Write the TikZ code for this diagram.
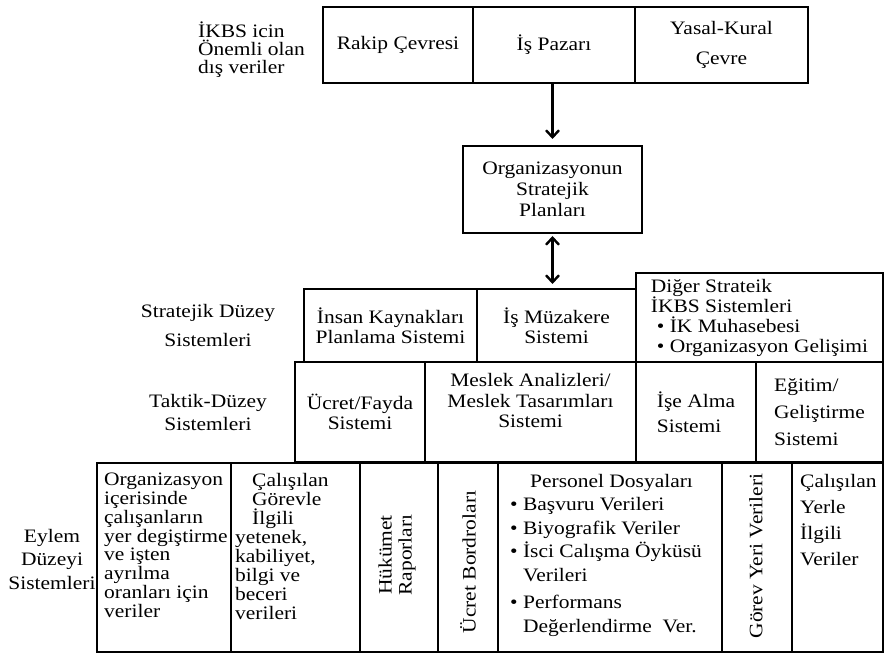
\documentclass[tikz,border=0pt]{standalone}
\usepackage{fontspec}
\setmainfont[FakeStretch=1.13]{Liberation Serif}
\usepackage{tikz}
\usetikzlibrary{arrows.meta}

\newcommand{\cellfont}[1]{\fontsize{19}{#1}\selectfont}

\begin{document}
\begin{tikzpicture}[x=1pt,y=-1pt,
    every node/.style={font=\cellfont{19.5}},
    cell/.style={draw, line width=2.4pt, inner sep=0pt, outer sep=0pt, align=center},
    thincell/.style={draw, line width=1.3pt, inner sep=0pt, outer sep=0pt, align=center},
    txt/.style={inner sep=0pt, align=left},
    side/.style={inner sep=0pt, align=center},
    arr/.style={line width=2.4pt, -{Straight Barb[length=7pt,width=13pt]}},
    dblarr/.style={line width=2.4pt, {Straight Barb[length=7pt,width=13pt]}-{Straight Barb[length=7pt,width=13pt]}}]

  \useasboundingbox (0,0) rectangle (884,655);

  % outside data:
  \node[txt, anchor=north west, font=\cellfont{18}] (dis) at (198,22) {İKBS icin\\Önemli olan\\dış veriler};
  \node[thincell, minimum width=150, minimum height=76] (rakip) at (398,45) {Rakip Çevresi};
  \node[thincell, minimum width=162, minimum height=76] (pazar) at (554,45) {İş Pazarı};
  \node[thincell, minimum width=173, minimum height=76, font=\cellfont{30}] (yasal) at (721.5,45) {Yasal-Kural\\Çevre};
  \draw[line width=2.6pt] (rakip.north west) rectangle (yasal.south east);

  % plans:
  \node[cell, minimum width=179, minimum height=87, font=\cellfont{21}] (org) at (552.5,189.5) {Organizasyonun\\Stratejik\\Planları};

  \draw[arr, shorten >=7pt] (org.north |- pazar.south) -- (org.north);

  % strategic level:
  \node[side, font=\cellfont{29}] (strlbl) at (208,325.5) {Stratejik Düzey\\Sistemleri};
  \node[cell, minimum width=173, minimum height=73, font=\cellfont{20}] (ikps) at (390.5,325.5) {İnsan Kaynakları\\Planlama Sistemi};
  \node[cell, minimum width=159, minimum height=73, font=\cellfont{20}] (muzakere) at (556.5,325.5) {İş Müzakere\\Sistemi};
  \node[cell, minimum width=247, minimum height=89, align=left, font=\cellfont{20}] (diger) at (759.5,317.5)
    {Diğer Strateik\\İKBS Sistemleri\\\hspace*{6pt}• İK Muhasebesi\\\hspace*{6pt}• Organizasyon Gelişimi};

  \draw[dblarr, shorten <=3pt, shorten >=5pt] (org.south) -- (org.south |- muzakere.north);

  % tactical level:
  \node[side, font=\cellfont{23}] (taklbl) at (208,412.5) {Taktik-Düzey\\Sistemleri};
  \node[cell, minimum width=130, minimum height=100] (ucret) at (360,412) {Ücret/Fayda\\Sistemi};
  \node[cell, minimum width=211, minimum height=100] (meslek) at (530.5,412) {};
  \node[side, font=\cellfont{20.5}] (meslekT) at (530.5,401) {Meslek Analizleri/\\Meslek Tasarımları\\Sistemi};
  \node[cell, minimum width=120, minimum height=100, align=left, font=\cellfont{25}] (isealma) at (696,412) {İşe Alma\\Sistemi};
  \node[cell, minimum width=127, minimum height=100, align=left, font=\cellfont{27}] (egitim) at (819.5,412) {Eğitim/\\Geliştirme\\Sistemi};

  % action level:
  \node[side, font=\cellfont{23.5}] (eylbl) at (52,559) {Eylem\\Düzeyi\\Sistemleri};
  \node[cell, minimum width=134, minimum height=189] (hareket) at (164,557.5) {};
  \node[cell, minimum width=129, minimum height=189] (gorevbilgi) at (295.5,557.5) {};
  \node[cell, minimum width=78, minimum height=189] (hukumet) at (399,557.5) {};
  \node[cell, minimum width=60, minimum height=189] (bordro) at (468,557.5) {};
  \node[cell, minimum width=224, minimum height=189] (personel) at (610,557.5) {};
  \node[cell, minimum width=70, minimum height=189] (gorevyeri) at (757,557.5) {};
  \node[cell, minimum width=91, minimum height=189] (yerbilgi) at (837.5,557.5) {};

  \node[txt, anchor=north west, font=\cellfont{18.8}] (hareketT) at (104,473)
    {Organizasyon\\içerisinde\\çalışanların\\yer degiştirme\\ve işten\\ayrılma\\oranları için\\veriler};
  \node[txt, anchor=north west, font=\cellfont{19}] (gorevbilgiT) at (235,473)
    {\hspace*{17pt}Çalışılan\\\hspace*{17pt}Görevle\\\hspace*{17pt}İlgili\\yetenek,\\kabiliyet,\\bilgi ve\\beceri\\verileri};
  \node[side, rotate=90, font=\cellfont{20}] (hukumetT) at (397,555) {Hükümet\\Raporları};
  \node[side, rotate=90] (bordroT) at (468,562) {Ücret Bordroları};
  \node[txt, anchor=north west, font=\cellfont{23.5}] (personelT) at (510,474)
    {\hspace*{20pt}Personel Dosyaları\\• Başvuru Verileri\\• Biyografik Veriler\\• İsci Calışma Öyküsü\\\hspace*{13pt}Verileri\\[4pt]• Performans\\\hspace*{13pt}Değerlendirme~~Ver.};
  \node[side, rotate=90] (gorevyeriT) at (756,556) {Görev Yeri Verileri};
  \node[txt, anchor=north west, font=\cellfont{26}] (yerbilgiT) at (800,474) {Çalışılan\\Yerle\\İlgili\\Veriler};

\end{tikzpicture}
\end{document}
